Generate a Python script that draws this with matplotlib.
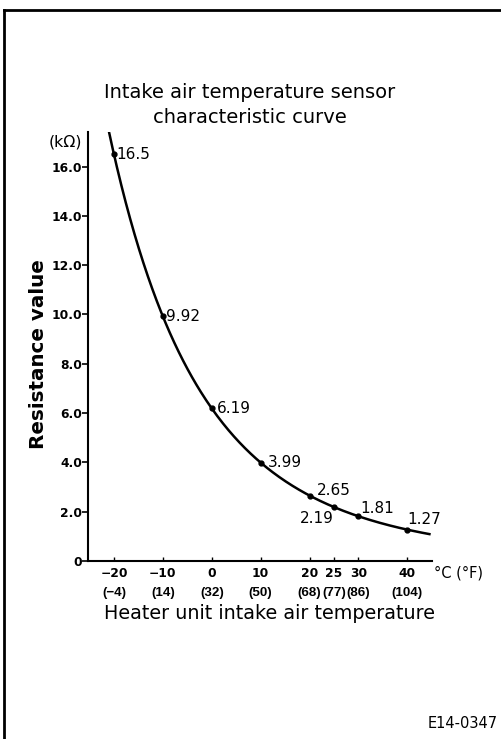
import numpy as np
import matplotlib.pyplot as plt
from matplotlib.lines import Line2D

temp_c = [-20, -10, 0, 10, 20, 25, 30, 40]
resistance = [16.5, 9.92, 6.19, 3.99, 2.65, 2.19, 1.81, 1.27]
point_labels = ["16.5", "9.92", "6.19", "3.99", "2.65", "2.19", "1.81", "1.27"]
tick_c = [-20, -10, 0, 10, 20, 25, 30, 40]
tick_f = ["(\u22124)", "(14)", "(32)", "(50)", "(68)", "(77)", "(86)", "(104)"]
y_ticks = [0, 2, 4, 6, 8, 10, 12, 14, 16]

plt.rcParams["font.family"] = ["DejaVu Sans"]

fig = plt.figure(figsize=(5.02, 7.39), dpi=100)
ax = fig.add_axes([0.1753, 0.2409, 0.685, 0.5805])

# smooth curve through the points (fit in log space)
coef = np.polyfit(temp_c, np.log(resistance), 3)
tt = np.linspace(-23, 44.5, 300)
ax.plot(tt, np.exp(np.polyval(coef, tt)), color="black", lw=1.8)
ax.plot(temp_c, resistance, "o", color="black", ms=3.5)

# label offsets in points (dx, dy, ha)
offs = [(2, 0, "left"), (2, 0, "left"), (4, 0, "left"), (5, 0, "left"),
        (5, 4, "left"), (0, -8, "right"), (1, 6, "left"), (0, 7, "left")]
for x, y, s, (dx, dy, ha) in zip(temp_c, resistance, point_labels, offs):
    ax.annotate(s, (x, y), xytext=(dx, dy), textcoords="offset points",
                ha=ha, va="center", fontsize=11)

ax.set_xlim(-25.3, 45)
ax.set_ylim(0, 17.4)
for sp in ["top", "right"]:
    ax.spines[sp].set_visible(False)
for sp in ["left", "bottom"]:
    ax.spines[sp].set_linewidth(1.5)

ax.set_yticks(y_ticks)
ax.set_yticklabels(["0"] + [f"{v:.1f}" for v in y_ticks[1:]], fontweight="bold", fontsize=8.8)
ax.tick_params(axis="y", direction="out", length=4, width=1.2, pad=0)
ax.set_xticks(tick_c)
ax.set_xticklabels([f"{c}".replace("-", "\u2212") for c in tick_c],
                   fontweight="bold", fontsize=8.8)
ax.tick_params(axis="x", direction="in", length=3, width=1.0, pad=4)
# Fahrenheit line under the Celsius ticks
for c, f in zip(tick_c, tick_f):
    ax.text(c, -1.28, f, ha="center", va="center", fontsize=9.6,
            fontweight="bold", family="Liberation Sans", clip_on=False)

ax.text(45.5, -0.49, "\u00b0C (\u00b0F)", ha="left", va="center", fontsize=10.5)
ax.text(-26.5, 17.0, "(k\u03a9)", ha="right", va="center", fontsize=11.3)
fig.text(0.0757, 0.521, "Resistance value", rotation=90, ha="center", va="center",
         fontsize=14.3, fontweight="bold")
fig.text(0.498, 0.888, "Intake air temperature sensor\ncharacteristic curve",
         ha="center", va="top", fontsize=14, linespacing=1.4)
fig.text(0.536, 0.1705, "Heater unit intake air temperature", ha="center", va="center",
         fontsize=13.8)
fig.text(0.992, 0.0203, "E14-0347", ha="right", va="center", fontsize=10.5)

# frame border (top and left only)
fig.add_artist(Line2D([0.007, 1.0], [0.987, 0.987], transform=fig.transFigure, color="black", lw=2))
fig.add_artist(Line2D([0.008, 0.008], [0.0, 0.987], transform=fig.transFigure, color="black", lw=2))

fig.savefig("out.png", dpi=100)
